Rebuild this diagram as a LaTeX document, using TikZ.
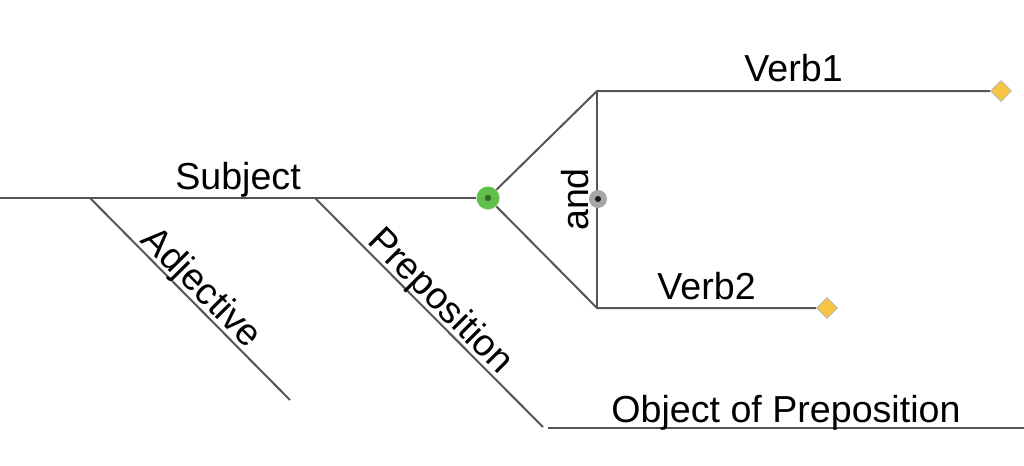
\documentclass[tikz,border=0pt]{standalone}
\usepackage{fontspec}
\setmainfont{Liberation Sans}
\usetikzlibrary{positioning, shapes.geometric}

\definecolor{lineGray}{HTML}{555555}
\definecolor{juncGreen}{HTML}{62BF4C}
\definecolor{juncDark}{HTML}{2F6E2A}
\definecolor{handleYellow}{HTML}{F6C546}

\begin{document}
\begin{tikzpicture}[x=0.5pt, y=-0.5pt,
  ln/.style={draw=lineGray, line width=1pt},
  lbl/.style={font=\fontsize{18.8}{22}\selectfont, text depth=0pt, inner sep=0pt, above=4pt},
  diag/.style={lbl, sloped, above=2pt},
  junc/.style={circle, fill=juncGreen, minimum size=11.5pt, inner sep=0pt,
               path picture={\fill[juncDark] (path picture bounding box.center) circle (1.6pt);}},
  conj/.style={circle, fill=gray!70, minimum size=9pt, inner sep=0pt,
               path picture={\fill[gray!20!black] (path picture bounding box.center) circle (1.5pt);}},
  handle/.style={diamond, fill=handleYellow, draw=gray!60, line width=0.3pt,
                 minimum size=10.5pt, inner sep=0pt}
]
\useasboundingbox (0,0) rectangle (1024,466);

\coordinate (root) at (0,198);
\node[junc] (hub) at (488,198) {};
\coordinate (v1start) at (597,91);
\coordinate (v2start) at (597,308);
\node[handle] (v1end) at (1001,91) {};
\node[handle] (v2end) at (827,308) {};
\coordinate (adjtop) at (90,198);
\coordinate (adjbot) at (290,400);
\coordinate (preptop) at (315,198);
\coordinate (prepbot) at (543,427);
\coordinate (objstart) at (548,428);
\coordinate (objend) at (1024,428);

\draw[ln] (root) -- node[lbl]{Subject} (hub);
\draw[ln] (hub) -- (v1start) -- node[lbl]{Verb1} (v1end);
\draw[ln] (hub) -- (v2start) -- node[lbl]{Verb2} (v2end);
\draw[ln] (v2start) -- node[diag, above=4pt]{and} (v1start);
\draw[ln] (adjtop) -- node[diag]{Adjective} (adjbot);
\draw[ln] (preptop) -- node[diag]{Preposition} (prepbot);
\draw[ln] (objstart) -- node[lbl, above=2.5pt]{Object of Preposition} (objend);

\node[conj] (cj) at (598,199) {};
\end{tikzpicture}
\end{document}
